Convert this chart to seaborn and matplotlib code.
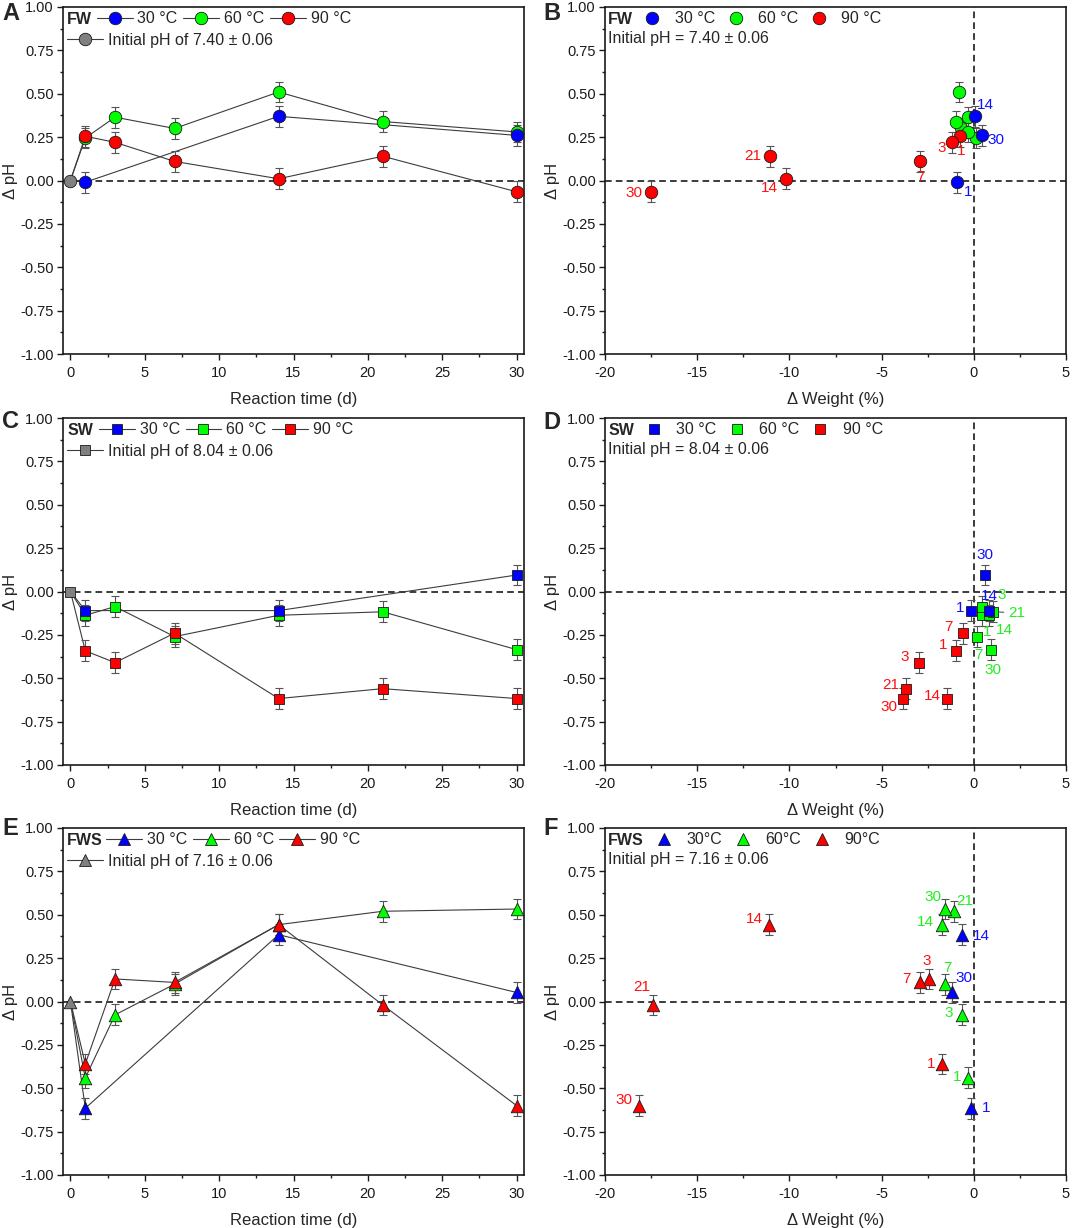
import seaborn as sns
import matplotlib.pyplot as plt
from matplotlib.lines import Line2D
from matplotlib.ticker import MultipleLocator, FormatStrFormatter

# 采样天数（30 °C 只测了 1、14、30 天）
days = [1, 3, 7, 14, 21, 30]
days_30 = [1, 14, 30]
init_day = [0]
init_dph = [0.0]
ph_err = 0.06

# FW：pH 变化与失重
fw_dph_30 = [-0.01, 0.37, 0.26]
fw_dph_60 = [0.245, 0.365, 0.30, 0.51, 0.34, 0.28]
fw_dph_90 = [0.255, 0.22, 0.11, 0.01, 0.14, -0.065]
fw_wt_30 = [-0.93, 0.04, 0.45]
fw_wt_60 = [0.14, -0.29, -0.72, -0.81, -0.95, -0.30]
fw_wt_90 = [-0.77, -1.18, -2.90, -10.20, -11.05, -17.50]

# SW
sw_dph_30 = [-0.11, -0.11, 0.095]
sw_dph_60 = [-0.137, -0.087, -0.26, -0.137, -0.117, -0.335]
sw_dph_90 = [-0.342, -0.41, -0.24, -0.617, -0.56, -0.617]
sw_wt_30 = [-0.17, 0.83, 0.59]
sw_wt_60 = [0.43, 0.44, 0.19, 0.80, 1.04, 0.91]
sw_wt_90 = [-0.95, -2.97, -0.61, -1.46, -3.69, -3.84]

# FWS
fws_dph_30 = [-0.615, 0.385, 0.052]
fws_dph_60 = [-0.44, -0.077, 0.10, 0.443, 0.52, 0.533]
fws_dph_90 = [-0.36, 0.13, 0.11, 0.443, -0.02, -0.60]
fws_wt_30 = [-0.17, -0.63, -1.19]
fws_wt_60 = [-0.30, -0.63, -1.56, -1.74, -1.06, -1.54]
fws_wt_90 = [-1.74, -2.45, -2.93, -11.08, -17.40, -18.15]

temp_labels = ['30 °C', '60 °C', '90 °C']
temp_labels_f = ['30°C', '60°C', '90°C']

# 颜色
c_blue, c_green, c_red, c_gray = '#0000FF', '#00FF00', '#FF0000', '#808080'
t_blue, t_green, t_red = '#1010FF', '#22EE22', '#FF1010'
line_gray = '#3c3c3c'
err_gray = '#555555'

# 标签偏移（像素），顺序与天数一致
off_b_30 = [(11, -10), (11, 11), (14, -5)]
off_b_90 = [(2, -15), (-10, -6), (0, -16), (-16, -9), (-17, 0), (-17, -1)]
off_d_30 = [(-11, 3), (0, 15), (0, 20)]
off_d_60 = [(5, -17), (20, 12), (1, -18), (16, -15), (24, -1), (2, -20)]
off_d_90 = [(-13, 6), (-14, 6), (-14, 6), (-15, 3), (-15, 4), (-14, -8)]
off_f_30 = [(15, 0), (19, -1), (12, 14)]
off_f_60 = [(-11, 1), (-13, 2), (2, 16), (-16, 3), (10, 10), (-12, 12)]
off_f_90 = [(-11, 0), (-2, 18), (-13, 3), (-15, 6), (-11, 18), (-15, 6)]

sns.set_theme(style='ticks')
plt.rcParams['font.family'] = ['Liberation Sans', 'DejaVu Sans']
plt.rcParams['axes.unicode_minus'] = False

fig = plt.figure(figsize=(10.72, 12.28), dpi=100)
col_left = [63 / 1072, 605 / 1072]
row_bottom = [1 - 354 / 1228, 1 - 765 / 1228, 1 - 1175 / 1228]
W, H = 461 / 1072, 347 / 1228


def style_axes(ax, xlim, xmajor, xlabel):
    ax.set_xlim(*xlim)
    ax.set_ylim(-1, 1)
    ax.xaxis.set_major_locator(MultipleLocator(xmajor))
    ax.xaxis.set_minor_locator(MultipleLocator(xmajor / 2))
    ax.yaxis.set_major_locator(MultipleLocator(0.25))
    ax.yaxis.set_minor_locator(MultipleLocator(0.125))
    ax.yaxis.set_major_formatter(FormatStrFormatter('%.2f'))
    ax.tick_params(which='both', direction='out', top=False, right=False,
                   width=1, colors='k', labelsize=10.5)
    ax.tick_params(which='major', length=4.5)
    ax.tick_params(which='minor', length=2.5)
    ax.tick_params(axis='x', pad=4)
    ax.tick_params(axis='y', pad=2)
    for s in ax.spines.values():
        s.set_visible(True)
        s.set_linewidth(1.2)
        s.set_color('k')
    ax.set_xlabel(xlabel, fontsize=12, labelpad=9)
    ax.set_ylabel('Δ pH', fontsize=12, labelpad=2)
    ax.axhline(0, color='k', ls=(0, (4, 2.5)), lw=1.2, zorder=1)


def draw_time(ax, series, marker, ms):
    for d, dph, color in series:
        sns.lineplot(x=init_day + d, y=init_dph + dph, ax=ax, color=line_gray,
                     lw=0.8, errorbar=None, legend=False, zorder=2)
        ax.errorbar(d, dph, yerr=ph_err, fmt='none', ecolor=err_gray,
                    elinewidth=0.8, capsize=3, capthick=0.8, zorder=3)
        sns.scatterplot(x=d, y=dph, ax=ax, marker=marker, s=ms ** 2, color=color,
                        edgecolor='k', linewidth=0.6, zorder=4, legend=False)
    sns.scatterplot(x=init_day, y=init_dph, ax=ax, marker=marker, s=ms ** 2,
                    color=c_gray, edgecolor='k', linewidth=0.6, zorder=5, legend=False)


def draw_weight(ax, series, marker, ms, leaders=()):
    ax.axvline(0, color='k', ls=(0, (4, 2.5)), lw=1.2, zorder=1)
    for d, dph, wt, color, tcolor, offs in series:
        ax.errorbar(wt, dph, yerr=ph_err, fmt='none', ecolor=err_gray,
                    elinewidth=0.8, capsize=3, capthick=0.8, zorder=3)
        sns.scatterplot(x=wt, y=dph, ax=ax, marker=marker, s=ms ** 2, color=color,
                        edgecolor='k', linewidth=0.6, zorder=4, legend=False)
        if offs is None:
            continue
        for day, xx, yy, (dx, dy) in zip(d, wt, dph, offs):
            kw = {}
            if (color, day) in leaders:
                kw['arrowprops'] = dict(arrowstyle='-', color=err_gray, lw=0.8,
                                        shrinkA=1, shrinkB=4)
            ax.annotate(str(day), (xx, yy), xytext=(dx, dy), textcoords='offset pixels',
                        ha='center', va='center', color=tcolor, fontsize=11,
                        zorder=6, **kw)


def time_legend(ax, name, marker, ms, init_label, x_leg):
    ax.text(0.009, 0.964, name, transform=ax.transAxes, fontsize=11.5,
            fontweight='bold', va='center', ha='left')
    hs = [Line2D([], [], color=line_gray, lw=0.8, marker=marker, ms=ms, mfc=c,
                 mec='k', mew=0.6) for c in (c_blue, c_green, c_red)]
    leg = ax.legend(hs, temp_labels, ncol=3, loc='upper left',
                    bbox_to_anchor=(x_leg, 0.988), frameon=False, fontsize=11.5,
                    handlelength=2.25, handletextpad=0.3, columnspacing=0.35,
                    borderpad=0, borderaxespad=0)
    ax.add_artist(leg)
    h0 = Line2D([], [], color=line_gray, lw=0.8, marker=marker, ms=ms, mfc=c_gray,
                mec='k', mew=0.6)
    ax.legend([h0], [init_label], loc='upper left', bbox_to_anchor=(0.009, 0.926),
              frameon=False, fontsize=11.5, handlelength=2.25, handletextpad=0.3,
              borderpad=0, borderaxespad=0)


def weight_legend(ax, name, marker, ms, labels, init_label, x_leg):
    ax.text(0.007, 0.964, name, transform=ax.transAxes, fontsize=11.5,
            fontweight='bold', va='center', ha='left')
    hs = [Line2D([], [], ls='none', marker=marker, ms=ms, mfc=c, mec='k', mew=0.6)
          for c in (c_blue, c_green, c_red)]
    ax.legend(hs, labels, ncol=3, loc='upper left', bbox_to_anchor=(x_leg, 0.988),
              frameon=False, fontsize=11.5, handlelength=1.0, handletextpad=0.9,
              columnspacing=0.8, borderpad=0, borderaxespad=0)
    ax.text(0.007, 0.908, init_label, transform=ax.transAxes, fontsize=11.5,
            va='center', ha='left')


axes = {}
for r in range(3):
    for c in range(2):
        axes[(r, c)] = fig.add_axes([col_left[c], row_bottom[r], W, H])

# A
ax = axes[(0, 0)]
draw_time(ax, [(days, fw_dph_60, c_green), (days_30, fw_dph_30, c_blue),
               (days, fw_dph_90, c_red)], 'o', 9)
style_axes(ax, (-0.5, 30.5), 5, 'Reaction time (d)')
time_legend(ax, 'FW', 'o', 9, 'Initial pH of 7.40 ± 0.06', 0.073)

# B
ax = axes[(0, 1)]
draw_weight(ax, [(days, fw_dph_60, fw_wt_60, c_green, t_green, None),
                 (days_30, fw_dph_30, fw_wt_30, c_blue, t_blue, off_b_30),
                 (days, fw_dph_90, fw_wt_90, c_red, t_red, off_b_90)], 'o', 9)
style_axes(ax, (-20, 5), 5, 'Δ Weight (%)')
weight_legend(ax, 'FW', 'o', 9, temp_labels, 'Initial pH = 7.40 ± 0.06', 0.085)

# C
ax = axes[(1, 0)]
draw_time(ax, [(days, sw_dph_60, c_green), (days_30, sw_dph_30, c_blue),
               (days, sw_dph_90, c_red)], 's', 7.5)
style_axes(ax, (-0.5, 30.5), 5, 'Reaction time (d)')
time_legend(ax, 'SW', 's', 7.5, 'Initial pH of 8.04 ± 0.06', 0.078)

# D
ax = axes[(1, 1)]
draw_weight(ax, [(days, sw_dph_60, sw_wt_60, c_green, t_green, off_d_60),
                 (days_30, sw_dph_30, sw_wt_30, c_blue, t_blue, off_d_30),
                 (days, sw_dph_90, sw_wt_90, c_red, t_red, off_d_90)], 's', 7.5,
            leaders=[(c_green, 21)])
style_axes(ax, (-20, 5), 5, 'Δ Weight (%)')
weight_legend(ax, 'SW', 's', 7.5, temp_labels, 'Initial pH = 8.04 ± 0.06', 0.088)

# E
ax = axes[(2, 0)]
draw_time(ax, [(days, fws_dph_60, c_green), (days_30, fws_dph_30, c_blue),
               (days, fws_dph_90, c_red)], '^', 9)
style_axes(ax, (-0.5, 30.5), 5, 'Reaction time (d)')
time_legend(ax, 'FWS', '^', 9, 'Initial pH of 7.16 ± 0.06', 0.094)

# F
ax = axes[(2, 1)]
draw_weight(ax, [(days, fws_dph_60, fws_wt_60, c_green, t_green, off_f_60),
                 (days_30, fws_dph_30, fws_wt_30, c_blue, t_blue, off_f_30),
                 (days, fws_dph_90, fws_wt_90, c_red, t_red, off_f_90)], '^', 9)
style_axes(ax, (-20, 5), 5, 'Δ Weight (%)')
weight_legend(ax, 'FWS', '^', 9, temp_labels_f, 'Initial pH = 7.16 ± 0.06', 0.111)

# 子图字母
for letter, (px, py) in zip('ABCDEF', [(2, 2), (543, 2), (2, 410), (543, 411),
                                       (2, 817), (543, 817)]):
    fig.text(px / 1072, 1 - py / 1228, letter, fontsize=17, fontweight='bold',
             va='top', ha='left')

fig.savefig('out.png', dpi=100)
